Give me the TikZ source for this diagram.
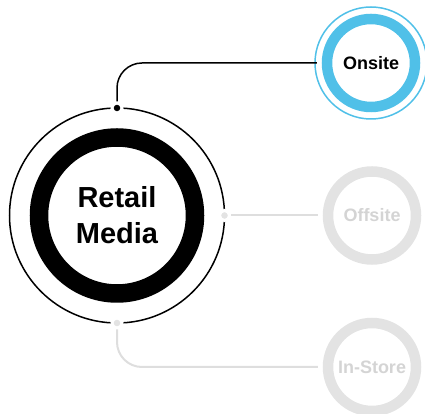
\documentclass[tikz,border=0pt]{standalone}
\usepackage{fontspec}
\setmainfont{Liberation Sans}
\usepackage{xcolor}
\usepackage{tikz}
\definecolor{skyring}{RGB}{80,192,232}
\definecolor{fadering}{RGB}{227,227,227}
\definecolor{fadetext}{RGB}{212,212,212}
\definecolor{fadeline}{RGB}{222,222,222}

\begin{document}
\begin{tikzpicture}[x=1pt,y=1pt,
    hub/.style={shape=circle, draw=black, line width=18.5pt, minimum size=156pt, inner sep=0pt, align=center, font=\bfseries\fontsize{29}{36}\selectfont},
    sat/.style={shape=circle, draw, line width=10.5pt, minimum size=88pt, inner sep=0pt, font=\bfseries\fontsize{18}{22}\selectfont},
    pin/.style={shape=circle, draw=white, line width=3pt, minimum size=10pt, inner sep=0pt}]
    \useasboundingbox (0,0) rectangle (425,414);

    \node[hub] (retail) at (117,198.5) {Retail\\Media};
    \draw[line width=1.5pt] (retail.center) circle (107.5);

    \node[pin, fill=black] (ptop) at (117,306) {};
    \node[pin, fill=fadering] (pright) at (224.5,198.5) {};
    \node[pin, fill=fadering] (pbottom) at (117,91) {};

    \node[sat, draw=skyring] (onsite) at (371,351) {Onsite};
    \draw[skyring, line width=1.5pt] (onsite.center) circle (56);
    \node[sat, draw=fadering, text=fadetext] (offsite) at (372,198.5) {Offsite};
    \node[sat, draw=fadering, text=fadetext] (instore) at (372,47) {In-Store};

    \draw[line width=1.5pt, rounded corners=25pt, shorten >=5pt] (ptop) |- (onsite.west);
    \draw[fadeline, line width=2pt, shorten >=5pt] (pright) -- (offsite.west);
    \draw[fadeline, line width=2pt, rounded corners=25pt, shorten >=5pt] (pbottom) |- (instore.west);
  \end{tikzpicture}
\end{document}
